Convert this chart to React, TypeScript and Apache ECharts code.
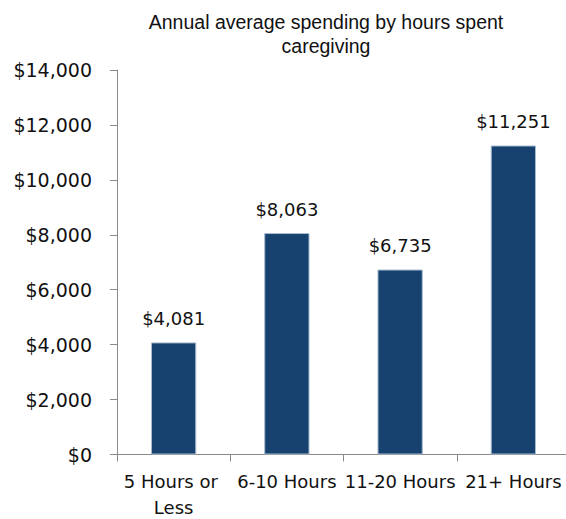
import React, { useEffect, useRef } from "react";
import * as echarts from "echarts";

const titleLines = ["Annual average spending by hours spent", "caregiving"];
const categories = ["5 Hours or Less", "6-10 Hours", "11-20 Hours", "21+ Hours"];
const spending = [4081, 8063, 6735, 11251];
const yMin = 0;
const yMax = 14000;
const yInterval = 2000;

const money = (v: number) => "$" + Number(v).toLocaleString("en-US");

export default function App() {
  const ref = useRef<HTMLDivElement>(null);
  useEffect(() => {
    if (!ref.current) return;
    const chart = echarts.init(ref.current, null, { renderer: "svg" });
    const axisColor = "#8a8a8a";
    const textColor = "#111111";
    chart.setOption({
      animation: false,
      backgroundColor: "#ffffff",
      graphic: [
        {
          type: "text",
          x: 326,
          y: 10,
          style: {
            text: titleLines.join("\n"),
            align: "center",
            verticalAlign: "top",
            fontFamily: "Liberation Sans, Arial, sans-serif",
            fontSize: 19.5,
            lineHeight: 24,
            fill: textColor,
          },
        },
      ],
      grid: {
        left: 117,
        right: -4,
        top: 70,
        bottom: 64.5,
        containLabel: false,
        outerBoundsMode: "none",
      },
      xAxis: {
        type: "category",
        data: categories,
        axisLine: { show: true, lineStyle: { color: axisColor, width: 1 } },
        axisTick: { show: true, length: 7, lineStyle: { color: axisColor } },
        axisLabel: {
          color: textColor,
          fontFamily: "DejaVu Sans, Verdana, sans-serif",
          fontSize: 18,
          lineHeight: 26,
          margin: 14,
          width: 114,
          overflow: "break",
          interval: 0,
        },
        splitLine: { show: false },
      },
      yAxis: {
        type: "value",
        min: yMin,
        max: yMax,
        interval: yInterval,
        axisLine: { show: true, lineStyle: { color: axisColor, width: 1 } },
        axisTick: { show: true, length: 7, lineStyle: { color: axisColor } },
        axisLabel: {
          color: textColor,
          fontFamily: "DejaVu Sans, Verdana, sans-serif",
          fontSize: 19,
          margin: 25,
          formatter: (v: number) => money(v),
        },
        splitLine: { show: false },
      },
      series: [
        {
          type: "bar",
          data: spending,
          barWidth: "40%",
          itemStyle: {
            color: "#17426f",
            borderColor: "#a9bbd0",
            borderWidth: 1,
          },
          label: {
            show: true,
            position: "top",
            distance: 15,
            color: textColor,
            fontFamily: "DejaVu Sans, Verdana, sans-serif",
            fontSize: 18,
            formatter: (p: any) => money(p.value),
          },
        },
      ],
    });
    return () => chart.dispose();
  }, []);
  return (
    <div
      ref={ref}
      style={{ position: "absolute", left: 0, top: 0, width: 566, height: 519 }}
    />
  );
}
